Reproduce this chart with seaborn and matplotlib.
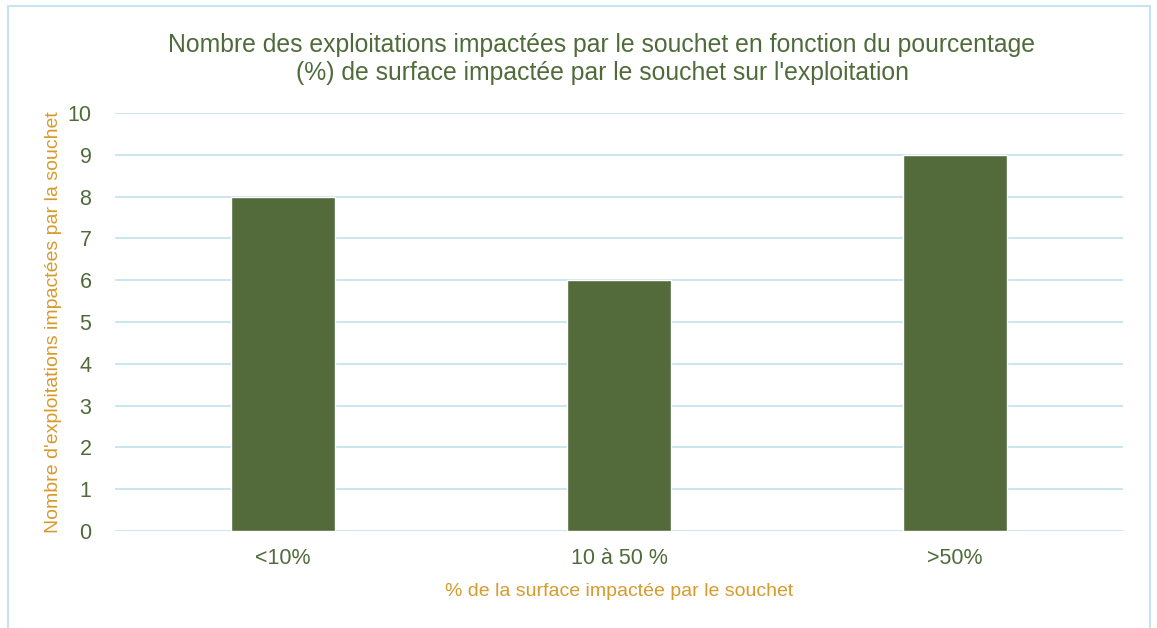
import pandas as pd
import matplotlib.pyplot as plt
import seaborn as sns
from matplotlib.patches import Rectangle

# data
categories = ["<10%", "10 à 50 %", ">50%"]
counts = [8, 6, 9]

df = pd.DataFrame({"surface": categories, "nb": counts})

green = "#536B3A"
text_green = "#4F6B3A"
orange = "#D69A2D"
grid_blue = "#C6E4EE"

sns.set_theme(style="white")
plt.rcParams["font.family"] = ["Liberation Sans", "DejaVu Sans"]

fig = plt.figure(figsize=(11.57, 6.28), dpi=100)
ax = fig.add_axes([115 / 1157, 1 - 531 / 628, 1008 / 1157, 418 / 628])

sns.barplot(data=df, x="surface", y="nb", color=green, saturation=1,
            width=0.31, ax=ax, zorder=3)

ax.set_ylim(0, 10)
ax.set_xlim(-0.5, 2.5)
ax.set_yticks(range(0, 11))
ax.yaxis.grid(True, color=grid_blue, linewidth=1.3, zorder=0)
ax.xaxis.grid(False)
for s in ax.spines.values():
    s.set_visible(False)
ax.tick_params(axis="both", length=0, labelsize=15.5, labelcolor=text_green)
ax.tick_params(axis="x", pad=12)
ax.tick_params(axis="y", pad=17)

ax.set_xlabel("% de la surface impactée par le souchet", color=orange,
              fontsize=14, labelpad=10)
ax.set_ylabel("Nombre d'exploitations impactées par la souchet", color=orange,
              fontsize=14, labelpad=4)

fig.text(602 / 1157, 1 - 59 / 628,
         "Nombre des exploitations impactées par le souchet en fonction du pourcentage\n"
         "(%) de surface impactée par le souchet sur l'exploitation",
         ha="center", va="center", fontsize=17.8, color=text_green, linespacing=1.25)

# light blue frame around the chart
fig.patches.append(Rectangle((8 / 1157, -0.05), 1142 / 1157, 1.05 - 6 / 628,
                             transform=fig.transFigure, fill=False,
                             edgecolor=grid_blue, linewidth=1.5))

fig.savefig("out.png", dpi=100)
